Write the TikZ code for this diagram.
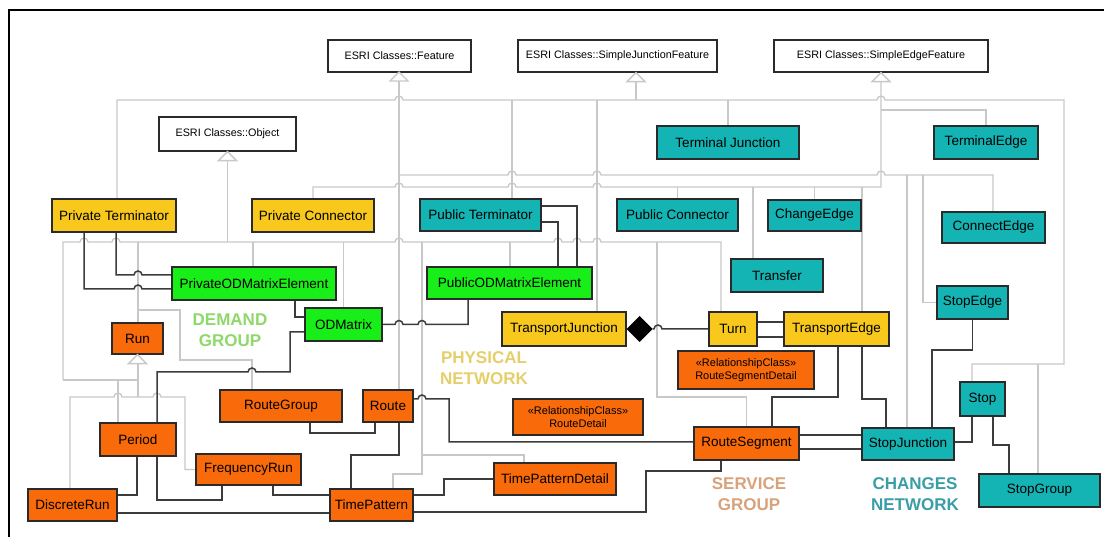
\documentclass[tikz,border=0pt]{standalone}
\usepackage{fontspec}
\setmainfont{Liberation Sans}
\usetikzlibrary{calc}
\pgfdeclarelayer{background}
\pgfsetlayers{background,main}
\definecolor{tealc}{HTML}{14B4B4}
\definecolor{yellowc}{HTML}{F8C81C}
\definecolor{greenc}{HTML}{18EE18}
\definecolor{orangec}{HTML}{F86A0A}
\definecolor{boxline}{HTML}{2A2A2A}
\definecolor{gline}{HTML}{C8C8C8}
\definecolor{dline}{HTML}{3C3C3C}
\definecolor{demandc}{HTML}{8FD86A}
\definecolor{physc}{HTML}{E6CF6A}
\definecolor{servc}{HTML}{D8A27A}
\definecolor{changc}{HTML}{3A9EA6}
\newcommand\gentri[1]{\draw[gen,fill=white] (#1) -- ++(-9,9) -- ++(18,0) -- cycle;}
\begin{document}
\begin{tikzpicture}[x=1pt,y=-1pt,
  box/.style={draw=boxline, line width=1.3pt, inner sep=0pt, text=black, font=\fontsize{13.5}{15}\selectfont},
  esri/.style={box, fill=white, font=\fontsize{10.8}{13}\selectfont},
  tbox/.style={box, fill=tealc},
  ybox/.style={box, fill=yellowc},
  gbox/.style={box, fill=greenc},
  obox/.style={box, fill=orangec},
  rbox/.style={obox, align=center, font=\fontsize{11}{13}\selectfont},
  gen/.style={draw=gline, line width=1.3pt},
  assoc/.style={draw=dline, line width=1.5pt},
  grp/.style={inner sep=0pt, align=center, font=\bfseries\fontsize{17}{21}\selectfont}
]
\useasboundingbox (0,0) rectangle (1104,537);

% ESRI classes
\node[esri, minimum width=143pt, minimum height=32pt] (feat) at (399.5,56) {ESRI Classes::Feature};
\node[esri, minimum width=199pt, minimum height=32pt] (sjf) at (617.5,56) {ESRI Classes::SimpleJunctionFeature};
\node[esri, minimum width=214pt, minimum height=32pt] (sef) at (881,56) {ESRI Classes::SimpleEdgeFeature};
\node[esri, minimum width=137pt, minimum height=34pt] (obj) at (227.5,134) {ESRI Classes::Object};

% teal
\node[tbox, minimum width=142pt, minimum height=33pt] (tj) at (728,142.5) {Terminal Junction};
\node[tbox, minimum width=104pt, minimum height=33pt] (te) at (986,142.5) {TerminalEdge};
\node[tbox, minimum width=121pt, minimum height=32pt] (pubt) at (480.5,215) {Public Terminator};
\node[tbox, minimum width=121pt, minimum height=32pt] (pubc) at (677.5,215) {Public Connector};
\node[tbox, minimum width=93pt, minimum height=31pt] (ce) at (814.5,215.5) {ChangeEdge};
\node[tbox, minimum width=103pt, minimum height=31pt] (cne) at (993.5,227.5) {ConnectEdge};
\node[tbox, minimum width=92pt, minimum height=33pt] (tra) at (777,275.5) {Transfer};
\node[tbox, minimum width=71pt, minimum height=33pt] (se) at (972.5,302.5) {StopEdge};
\node[tbox, minimum width=45pt, minimum height=34pt] (stop) at (982.5,399) {Stop};
\node[tbox, minimum width=92pt, minimum height=32pt] (sj) at (908,444) {StopJunction};
\node[tbox, minimum width=121pt, minimum height=33pt] (sg) at (1039.5,490.5) {StopGroup};

% yellow
\node[ybox, minimum width=124pt, minimum height=33pt] (prt) at (114,215.5) {Private Terminator};
\node[ybox, minimum width=122pt, minimum height=33pt] (prc) at (313,215.5) {Private Connector};
\node[ybox, minimum width=124pt, minimum height=34pt] (trj) at (564,329) {TransportJunction};
\node[ybox, minimum width=48pt, minimum height=34pt] (turn) at (733,329) {Turn};
\node[ybox, minimum width=105pt, minimum height=34pt] (tre) at (836.5,329) {TransportEdge};

% green
\node[gbox, minimum width=164pt, minimum height=33pt] (prod) at (254,283.5) {PrivateODMatrixElement};
\node[gbox, minimum width=77pt, minimum height=33pt] (od) at (343.5,324.5) {ODMatrix};
\node[gbox, minimum width=165pt, minimum height=32pt] (puod) at (509.5,283) {PublicODMatrixElement};

% orange
\node[obox, minimum width=51pt, minimum height=31pt] (run) at (137.5,338.5) {Run};
\node[obox, minimum width=122pt, minimum height=32pt] (rg) at (281,406) {RouteGroup};
\node[obox, minimum width=50pt, minimum height=32pt] (route) at (388,406) {Route};
\node[obox, minimum width=76pt, minimum height=33pt] (period) at (138,439.5) {Period};
\node[obox, minimum width=105pt, minimum height=31pt] (fr) at (248.5,469.5) {FrequencyRun};
\node[obox, minimum width=89pt, minimum height=32pt] (dr) at (72.5,505) {DiscreteRun};
\node[obox, minimum width=83pt, minimum height=32pt] (tp) at (371.5,505) {TimePattern};
\node[obox, minimum width=122pt, minimum height=32pt] (tpd) at (555,479) {TimePatternDetail};
\node[rbox, minimum width=130pt, minimum height=36pt] (rd) at (578,417) {«RelationshipClass»\\RouteDetail};
\node[rbox, minimum width=136pt, minimum height=38pt] (rsd) at (746,370) {«RelationshipClass»\\RouteSegmentDetail};
\node[obox, minimum width=105pt, minimum height=33pt] (rs) at (746.5,443.5) {RouteSegment};

% group labels
\node[grp, text=demandc] (lblD) at (230,330) {DEMAND\\GROUP};
\node[grp, text=physc] (lblP) at (484,368) {PHYSICAL\\NETWORK};
\node[grp, text=servc] (lblS) at (749,494) {SERVICE\\GROUP};
\node[grp, text=changc] (lblC) at (915,494) {CHANGES\\NETWORK};

\coordinate (dia) at ([xshift=26pt]trj.east);

\begin{pgfonlayer}{background}
\fill[white] (0,0) rectangle (1104,537);
\draw[line width=2pt] (1104,10) -- (9,10) -- (9,537);
% generalisation lines (grey)
\draw[gen] ([xshift=3pt]prt.north) -- (117,100) -- (395,100) arc(180:360:4) -- (877,100) arc(180:360:4) -- (1064,100) -- (1064,364) -- (972,364) -- ([xshift=-10.5pt]stop.north);
\draw[gen] (1038,364) -- ([xshift=-1.5pt]sg.north);
\draw[gen] ([xshift=18.5pt]sjf.south) -- (636,100);
\draw[gen] (512,100) -- ([xshift=31.5pt]pubt.north);
\draw[gen] (597,100) -- ([xshift=33pt]trj.north);
\draw[gen] (728,100) -- (tj.north);
\draw[gen] (399,72) -- ([xshift=11pt]route.north);
\draw[gen] (399,175) -- (508,175) arc(180:360:4) -- (593,175) arc(180:360:4) -- (877,175) arc(180:360:4) -- (993,175) -- ([xshift=-0.5pt]cne.north);
\draw[gen] (sef.south) -- (881,187) -- (601,187) arc(0:-180:4) -- (516,187) arc(0:-180:4) -- (403,187) arc(0:-180:4) -- (313,187) -- (prc.north);
\draw[gen] (677.5,187) -- (pubc.north);
\draw[gen] (753,187) -- ([xshift=-24pt]tra.north);
\draw[gen] (814.5,187) -- (ce.north);
\draw[gen] (862,187) -- ([xshift=25.5pt]tre.north);
\draw[gen] (881,110) -- (986,110) -- (te.north);
\draw[gen] (907,175) -- ([xshift=-1pt]sj.north);
\draw[gen] (923,175) -- (923,302.5) -- (se.west);
\draw[gen] (obj.south) -- (227.5,242);
\draw[gen] (63,380) -- (63,242) -- (80,242) arc(180:360:4) -- (112,242) arc(180:360:4) -- (395,242) arc(180:360:4) -- (554,242) arc(180:360:4) -- (573,242) arc(180:360:4) -- (593,242) arc(180:360:4) -- (721,242) -- ([xshift=-12pt]turn.north);
\draw[gen] (63,380) -- (138,380);
\draw[gen] (138,242) -- ([xshift=0.5pt]run.north);
\draw[gen] (253,242) -- ([xshift=-1pt]prod.north);
\draw[gen] (343.5,242) -- (od.north);
\draw[gen] (422,242) -- (422,474) -- (393,474) -- ([xshift=21.5pt]tp.north);
\draw[gen] (422,455) -- (524,455) -- ([xshift=-31pt]tpd.north);
\draw[gen] (510,242) -- ([xshift=0.5pt]puod.north);
\draw[gen] (657,242) -- (657,397) -- (746.5,397) -- (rs.north);
\draw[gen] ([xshift=0.5pt]run.south) -- (138,397);
\draw[gen] ([xshift=-2.5pt]dr.north) -- (70,397) -- (114,397) arc(180:360:4) -- (153,397) arc(180:360:4) -- (185,397) -- (185,469.5) -- (fr.west);
\draw[gen] (118,380) -- ([xshift=-20pt]period.north);
\draw[gen] (138,310) -- (180,310) -- (180,360) -- (252,360) -- ([xshift=-29pt]rg.north);

% associations (dark)
\draw[assoc] ([xshift=-30pt]prt.south) -- (84,289) -- (134,289) arc(180:360:4) -- ([yshift=-5.5pt]prod.west);
\draw[assoc] ([xshift=2pt]prt.south) -- (116,275) -- (134,275) arc(180:360:4) -- ([yshift=8.5pt]prod.west);
\draw[assoc] ([xshift=41pt]prod.south) -- (295,317) -- ([yshift=7.5pt]od.west);
\draw[assoc] ([yshift=-7.5pt]od.west) -- (290,332) -- (290,372) -- (256,372) arc(0:-180:4) -- (157,372) -- ([xshift=19pt]period.north);
\draw[assoc] ([xshift=19pt]period.south) -- (157,500) -- (222,500) -- ([xshift=-26.5pt]fr.south);
\draw[assoc] ([xshift=-1pt]period.south) -- (137,495) -- ([yshift=10pt]dr.east);
\draw[assoc] ([xshift=24.5pt]fr.south) -- (273,495) -- ([yshift=10pt]tp.west);
\draw[assoc] ([yshift=-8pt]dr.east) -- ([yshift=-8pt]tp.west);
\draw[assoc] ([xshift=29pt]rg.south) -- (310,433) -- (375,433) -- ([xshift=-13pt]route.south);
\draw[assoc] ([xshift=11pt]route.south) -- (399,455) -- (351,455) -- ([xshift=-20.5pt]tp.north);
\draw[assoc] ([yshift=7pt]route.east) -- (418,399) arc(180:360:4) -- (449,399) -- (449,442) -- ([yshift=1.5pt]rs.west);
\draw[assoc] ([yshift=10pt]tp.east) -- (444,495) -- (444,479) -- (tpd.west);
\draw[assoc] ([yshift=-7pt]tp.east) -- (646,512) -- (646,471) -- (721,471) -- ([xshift=-25.5pt]rs.south);
\draw[assoc] (od.east) -- (395,324.5) arc(180:360:4) -- (418,324.5) arc(180:360:4) -- (468,324.5) -- ([xshift=-41.5pt]puod.south);
\draw[assoc] ([yshift=9pt]pubt.east) -- (577,206) -- ([xshift=67.5pt]puod.north);
\draw[assoc] ([yshift=-7pt]pubt.east) -- (558,222) -- ([xshift=48.5pt]puod.north);
\draw[assoc] (dia) -- (654,329) arc(180:360:4) -- (turn.west);
\draw[assoc] ([yshift=7pt]turn.east) -- ([yshift=7pt]tre.west);
\draw[assoc] ([yshift=-8pt]turn.east) -- ([yshift=-8pt]tre.west);
\draw[assoc] ([xshift=1.5pt]tre.south) -- (838,397) -- (772,397) -- ([xshift=25.5pt]rs.north);
\draw[assoc] ([xshift=25.5pt]tre.south) -- (862,399) -- (886,399) -- ([xshift=-22pt]sj.north);
\draw[assoc] ([yshift=8.5pt]rs.east) -- ([yshift=8.5pt]rs.east -| sj.west);
\draw[assoc] ([yshift=-5.5pt]rs.east) -- ([yshift=-5.5pt]rs.east -| sj.west);
\draw[assoc] ([yshift=2pt]sj.east) -- (972,442) -- ([xshift=-10.5pt]stop.south);
\draw[assoc] ([xshift=10.5pt]stop.south) -- (993,445) -- (1009,445) -- ([xshift=-30.5pt]sg.north);
\draw[assoc] (se.south) -- (972.5,350) -- (932,350) -- ([xshift=24pt]sj.north);
\end{pgfonlayer}

% aggregation diamond
\fill[black] (trj.east) -- ++(13,-13) -- (dia) -- ++(-13,13) -- cycle;

% generalisation triangles
\gentri{399,72}
\gentri{[xshift=18.5pt]sjf.south}
\gentri{sef.south}
\gentri{obj.south}
\gentri{run.south}
\end{tikzpicture}
\end{document}
